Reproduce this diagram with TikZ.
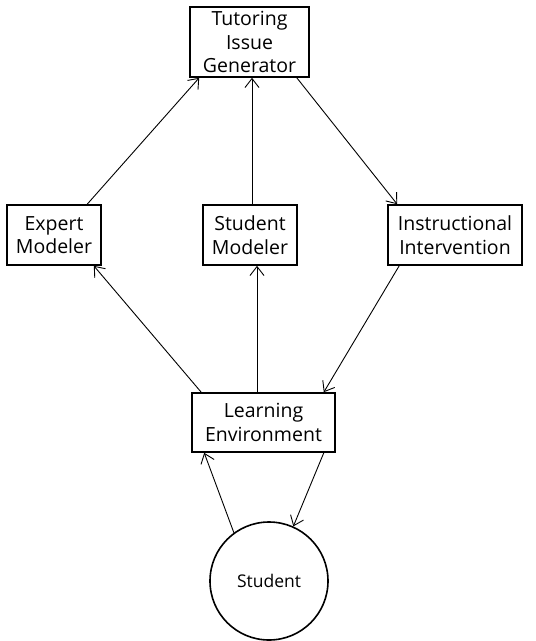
\documentclass[tikz,border=0pt]{standalone}
\usepackage{fontspec}
\setmainfont{Open Sans}
\usetikzlibrary{arrows.meta}
\tikzset{
  box/.style={draw, line width=1.6pt, align=center, inner sep=0pt,
    font=\fontsize{19.5}{23.5}\selectfont},
  conn/.style={line width=0.9pt, -{Straight Barb[length=9pt,width=14pt,line width=0.9pt]}},
}
\begin{document}
\begin{tikzpicture}[x=1pt,y=-1pt]
\useasboundingbox (0,0) rectangle (536,641);
\node[box, minimum width=119pt, minimum height=70pt] (tig) at (249.5,42) {Tutoring\\Issue\\Generator};
\node[box, minimum width=94pt, minimum height=60pt] (em) at (54,235) {Expert\\Modeler};
\node[box, minimum width=94pt, minimum height=60pt] (sm) at (250,235) {Student\\Modeler};
\node[box, minimum width=134pt, minimum height=60pt] (ii) at (455,235) {Instructional\\Intervention};
\node[box, minimum width=143pt, minimum height=59pt] (le) at (263.5,422.5) {Learning\\Environment};
\node[draw, circle, line width=1.6pt, minimum size=118pt, inner sep=0pt,
  font=\fontsize{17.5}{21}\selectfont] (st) at (269,581) {Student};

\draw[conn] ([xshift=81pt]em.north west) -- ([xshift=10pt]tig.south west);
\draw[conn] ([xshift=2pt]sm.north) -- ([xshift=2pt]sm.north |- tig.south);
\draw[conn] ([xshift=-13pt]tig.south east) -- ([xshift=10pt]ii.north west);
\draw[conn] ([xshift=12pt]ii.south west) -- ([xshift=-12pt]le.north east);
\draw[conn] ([xshift=10pt]le.north west) -- ([xshift=-8pt]em.south east);
\draw[conn] ([xshift=-6.5pt]le.north) -- ([xshift=-6.5pt]le.north |- sm.south);
\draw[conn] ([xshift=-12pt]le.south east) -- (st.66);
\draw[conn] (st.126) -- ([xshift=13pt]le.south west);
\end{tikzpicture}
\end{document}
